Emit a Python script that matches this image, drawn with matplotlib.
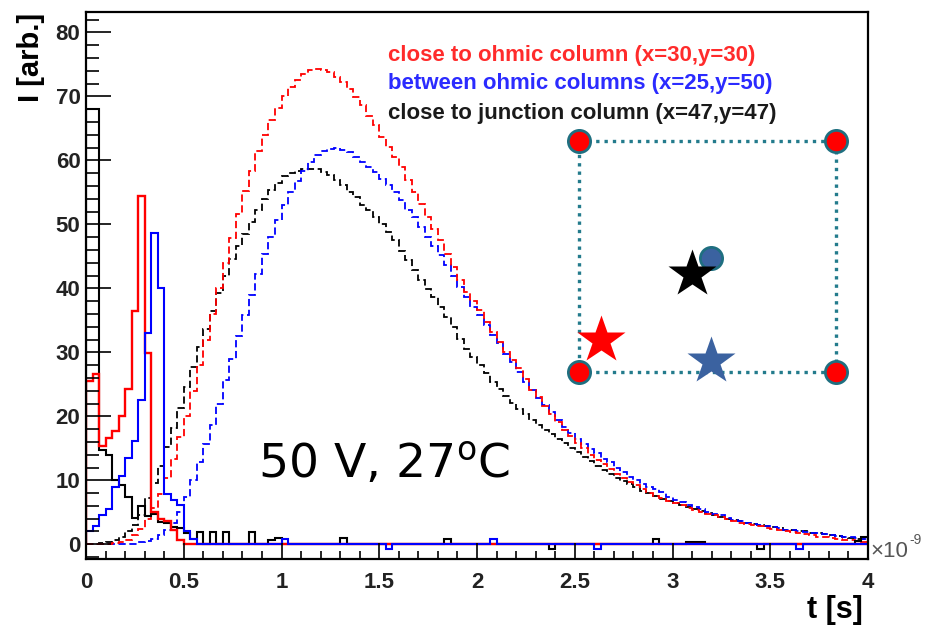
import numpy as np
import matplotlib
matplotlib.use('Agg')
import matplotlib.pyplot as plt
from matplotlib.ticker import MultipleLocator, FuncFormatter

# time bins, 0..4 ns in 120 bins (x axis is in units of 1e-9 s)
t_edges = np.linspace(0, 4, 121)

# early (solid) pulses
solid_red = [25.5, 26.6, 15.4, 16.6, 17.7, 20.1, 24.3, 36.5, 54.4, 29.9,
             5.0, 4.0, 3.7, 2.3, 0.6] + [0] * 105
solid_blue = [2.0, 2.9, 4.5, 5.5, 9.0, 10.7, 13.5, 16.2, 22.6, 33.0,
              48.6, 40.1, 7.9, 6.9, 6.1, 2.0, 0.9] + [0] * 103
solid_black = [68, 68, 14.8, 13.9, 10.0, 9.2, 7.4, 4.1, 6.0, 4.4,
               4.8, 3.5, 3.3, 2.7, 2.6, 1.7, 0.9, 1.9, 0, 1.9,
               0, 1.9, 0, 0, 0, 1.9, 0, 0, 0.6, 1.0] + [0] * 90

# small blips of the solid curves later on: (bin, value)
blue_blips = [(30, 0.8), (46, -0.7), (62, 0.8), (78, -0.7), (109, -0.8)]
black_blips = [(39, 1.0), (55, 0.8), (71, -0.7), (87, 0.8), (92, 0.4), (93, 0.4),
               (94, 0.4), (103, -0.7), (118, 0.5), (119, 1.2)]

# slow (dashed) pulses
dashed_red = [0, 0, 0.1, 0.1, 0.2, 0.4, 0.7, 1.4, 2.4, 3.9,
              5.6, 7.8, 10.4, 13.4, 16.7, 20.1, 24.0, 28.0, 32.0, 36.0,
              40.0, 44.0, 47.9, 51.7, 55.2, 58.3, 61.4, 63.9, 66.3, 68.2,
              70.0, 71.4, 72.6, 73.5, 74.1, 74.3, 74.2, 73.8, 73.0, 72.2,
              71.2, 69.9, 68.6, 67.0, 65.5, 63.6, 62.1, 60.5, 59.0, 56.9,
              55.0, 53.2, 51.1, 49.3, 47.5, 45.4, 43.3, 41.3, 39.4, 38.1,
              36.6, 34.7, 33.2, 31.6, 30.0, 28.8, 27.5, 25.9, 24.1, 23.0,
              21.6, 20.3, 19.1, 17.9, 16.9, 15.9, 15.0, 14.0, 13.1, 12.5,
              11.8, 11.0, 10.4, 9.8, 9.2, 8.7, 8.0, 7.6, 7.2, 6.7,
              6.4, 6.1, 5.7, 5.4, 5.1, 4.8, 4.5, 4.2, 3.9, 3.6,
              3.4, 3.2, 3.0, 2.8, 2.6, 2.4, 2.2, 2.0, 1.9, 1.8,
              1.6, 1.4, 1.2, 1.1, 1.0, 0.8, 0.7, 0.6, 0.5, 0.4]
dashed_blue = [0, 0, 0, 0, 0, 0, 0.05, 0.1, 0.3, 0.5,
               0.9, 1.4, 2.2, 3.3, 5.0, 7.4, 10.0, 12.9, 15.6, 18.6,
               22.0, 25.7, 29.0, 32.5, 35.8, 39.0, 42.3, 45.3, 48.0, 50.7,
               53.1, 55.0, 56.8, 58.4, 59.8, 60.8, 61.5, 61.8, 62.0, 61.7,
               61.3, 60.5, 59.7, 59.0, 58.2, 57.1, 56.1, 55.0, 53.8, 52.2,
               51.1, 49.6, 48.0, 46.7, 45.2, 43.6, 42.0, 40.2, 38.6, 37.1,
               35.8, 34.2, 32.7, 31.4, 29.8, 28.5, 26.9, 25.4, 24.1, 22.9,
               21.8, 20.6, 19.5, 18.4, 17.4, 16.5, 15.7, 14.9, 14.2, 13.4,
               12.8, 12.0, 11.3, 10.5, 10.0, 9.5, 9.0, 8.6, 8.2, 7.4,
               6.9, 6.6, 6.2, 5.8, 5.5, 5.1, 4.8, 4.5, 4.1, 3.8,
               3.6, 3.4, 3.2, 3.0, 2.9, 2.7, 2.5, 2.3, 2.2, 2.1,
               1.9, 1.8, 1.7, 1.6, 1.4, 1.3, 1.2, 1.1, 1.0, 0.9]
dashed_black = [0, 0.1, 0.2, 0.3, 0.6, 1.2, 2.0, 3.0, 4.6, 7.2,
                9.6, 12.3, 15.2, 18.2, 21.3, 24.6, 27.7, 30.8, 33.6, 36.4,
                39.3, 42.0, 44.6, 46.6, 48.5, 50.3, 52.2, 54.0, 55.4, 56.5,
                57.5, 58.1, 58.4, 58.7, 58.7, 58.6, 58.2, 57.7, 56.9, 56.1,
                55.0, 54.3, 53.0, 52.2, 51.1, 50.1, 48.8, 47.5, 45.9, 44.4,
                42.8, 41.3, 39.9, 38.6, 37.1, 35.5, 34.0, 32.1, 30.6, 29.3,
                28.0, 26.7, 25.4, 24.3, 23.1, 22.1, 21.2, 20.3, 19.5, 18.7,
                17.9, 17.2, 16.5, 15.8, 15.1, 14.4, 13.7, 13.0, 12.3, 11.6,
                11.0, 10.4, 9.9, 9.4, 8.9, 8.4, 8.0, 7.5, 7.1, 6.8,
                6.4, 6.1, 5.8, 5.5, 5.2, 4.9, 4.6, 4.3, 4.0, 3.8,
                3.6, 3.4, 3.2, 3.0, 2.8, 2.7, 2.5, 2.3, 2.2, 2.1,
                2.0, 1.8, 1.7, 1.6, 1.4, 1.3, 1.1, 1.0, 0.9, 0.8]

legend_lines = ['close to ohmic column (x=30,y=30)',
                'between ohmic columns (x=25,y=50)',
                'close to junction column (x=47,y=47)']
legend_colors = ['#ff2b2b', '#2b2bff', '#1a1a1a']

# schematic of the pixel (unit square): ohmic columns at corners, junction in middle
corner_x = [0, 1, 0, 1]
corner_y = [1, 1, 0, 0]
junction_xy = (0.514, 0.494)
star_x = [0.085, 0.512, 0.441]
star_y = [0.137, 0.047, 0.422]
star_colors = ['#ff0000', '#3b62a0', '#000000']

for b, v in blue_blips:
    solid_blue[b] = v
for b, v in black_blips:
    solid_black[b] = v

W, H = 933, 628
fig = plt.figure(figsize=(W / 100, H / 100), dpi=100)
ax = fig.add_axes([86 / W, 1 - 559 / H, 782 / W, 547 / H])

dash = (0, (4, 2))
ax.stairs(dashed_black, t_edges, color='black', lw=1.3, linestyle=dash)
ax.stairs(dashed_blue, t_edges, color='blue', lw=1.3, linestyle=dash)
ax.stairs(dashed_red, t_edges, color='red', lw=1.3, linestyle=dash)
ax.stairs(solid_black, t_edges, color='black', lw=1.5)
ax.stairs(solid_red, t_edges, color='red', lw=1.7)
ax.stairs(solid_blue, t_edges, color='blue', lw=1.5)

ax.set_xlim(0, 4)
ax.set_ylim(-2.3, 83.2)
ax.xaxis.set_major_locator(MultipleLocator(0.5))
ax.xaxis.set_minor_locator(MultipleLocator(0.1))
ax.yaxis.set_major_locator(MultipleLocator(10))
ax.yaxis.set_minor_locator(MultipleLocator(2))
ax.xaxis.set_major_formatter(FuncFormatter(lambda v, p: '%g' % v))
ax.tick_params(which='both', direction='in', top=False, right=False, width=1.2)
ax.tick_params(axis='y', which='major', length=18, pad=4)
ax.tick_params(axis='y', which='minor', length=9.5)
ax.tick_params(axis='x', which='major', length=11.5, pad=9)
ax.tick_params(axis='x', which='minor', length=6)
for lab in ax.get_xticklabels() + ax.get_yticklabels():
    lab.set_fontfamily('Liberation Sans')
    lab.set_fontweight('bold')
    lab.set_fontsize(16)
    lab.set_color('#222222')
for s in ax.spines.values():
    s.set_linewidth(1.6)

fig.text(31 / W, 1 - 13 / H, 'I [arb.]', rotation=90, ha='center', va='top',
         fontsize=21, fontweight='bold', family='Liberation Sans')
fig.text(863 / W, 1 - 610 / H, 't [s]', ha='right', va='center',
         fontsize=22, fontweight='bold', family='Liberation Sans')
# axis multiplier, x10^-9
fig.text(870 / W, 1 - 557 / H, '\u00d710', ha='left', va='baseline',
         fontsize=16, family='Liberation Sans', color='#555555')
fig.text(909 / W, 1 - 544 / H, '-9', ha='left', va='baseline',
         fontsize=10, family='Liberation Sans', color='#555555')

for i, (txt, c) in enumerate(zip(legend_lines, legend_colors)):
    fig.text(388 / W, 1 - (55 + 29 * i) / H, txt, ha='left', va='center',
             fontsize=16, fontweight='bold', family='Liberation Sans', color=c)

fig.text(258 / W, 1 - 478 / H, r'50 V, 27$^{\rm o}$C', ha='left', va='baseline',
         fontsize=34, family='DejaVu Sans', color='black')

# pixel schematic
teal = '#237b8c'
ins = fig.add_axes([579 / W, 1 - 371.7 / H, 257 / W, 231 / H])
ins.set_xlim(0, 1)
ins.set_ylim(0, 1)
ins.axis('off')
ins.plot([0, 1, 1, 0, 0], [0, 0, 1, 1, 0], color=teal, lw=2.4,
         linestyle=(0, (1, 1.5)), clip_on=False)
ins.plot(corner_x, corner_y, 'o', ms=16, mfc='red', mec='#1f6f80', mew=2, clip_on=False)
ins.plot([junction_xy[0]], [junction_xy[1]], 'o', ms=16, mfc='#3b62a0', mec='#1f6f80',
         mew=2, clip_on=False)
for x, y, c in zip(star_x, star_y, star_colors):
    ins.plot([x], [y], '*', ms=36, color=c, mec='none', clip_on=False)

fig.savefig('out.png', dpi=100)
